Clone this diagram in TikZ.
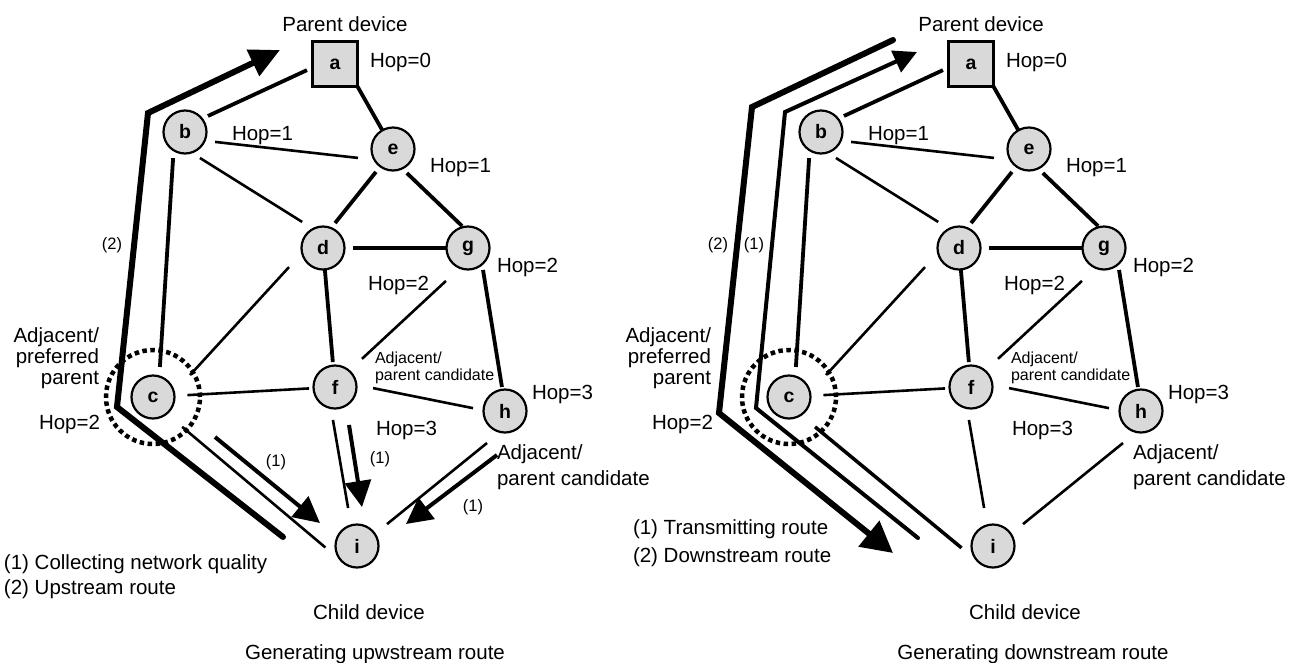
\documentclass[tikz,border=0pt]{standalone}
\usepackage{fontspec}
\setmainfont{Liberation Sans}
\usetikzlibrary{arrows.meta}
\newcommand{\netgraph}[2]{%
\begin{scope}[xshift=#2pt]
 \node[sq] (#1a) at (335,64) {a};
 \node[nd] (#1b) at (185,132) {b};
 \node[nd] (#1e) at (393,149) {e};
 \node[nd] (#1d) at (323,248) {d};
 \node[nd] (#1g) at (468,248) {g};
 \node[nd] (#1c) at (153,397) {c};
 \node[nd] (#1f) at (335,387) {f};
 \node[nd] (#1h) at (505,411) {h};
 \node[nd] (#1i) at (357,546) {i};
 \draw[thk, shorten <=6.1pt, shorten >=6.6pt] (#1a.189) -- (#1b.38);
 \draw[thn, shorten <=10.5pt, shorten >=16.5pt] (#1b.-24) -- (#1e.210);
 \draw[thn, shorten <=10.2pt, shorten >=13pt] (#1b.-73) -- (#1d.117.5);
 \draw[thk] (#1a.south east) -- (#1e);
 \draw[thk, shorten <=7.1pt, shorten >=6.4pt] (#1e.234) -- (#1d.68);
 \draw[thk, shorten <=6.6pt, shorten >=1.5pt] (#1e.-65) -- (#1g.103);
 \draw[thk, shorten <=8.5pt] (#1d) -- (#1g);
 \draw[thn, shorten <=19.3pt, shorten >=23.7pt] (#1d.193) -- (#1c.12);
 \draw[thk, shorten >=3.5pt] (#1d) -- (#1f);
 \draw[thn, shorten <=19.1pt, shorten >=17.5pt] (#1g.248) -- (#1f.49);
 \draw[thk, shorten <=5.8pt, shorten >=2.7pt] (#1g.-49) -- (#1h.97);
 \draw[thn, shorten <=13pt, shorten >=4.5pt] (#1c) -- (#1f);
 \draw[thn, shorten <=17pt, shorten >=10.7pt] (#1f.6) -- (#1h.178);
 \draw[thn, shorten <=12pt, shorten >=17.6pt] (#1f.259) -- (#1i.106);
 \draw[thn, shorten <=17.4pt, shorten >=15.7pt] (#1h.258) -- (#1i.34);
 \draw[thk, shorten <=7.9pt, shorten >=9.5pt] (#1b.238) -- (#1c.73);
 \node[lbl] (#1pd) at (345,24) {Parent device};
 \node[lbl, anchor=west] (#1h0) at (370,62) {Hop=0};
 \node[lbl, anchor=west] (#1hb) at (232,136) {Hop=1};
 \node[lbl, anchor=west] (#1he) at (430,168) {Hop=1};
 \node[lbl, anchor=west] (#1hg) at (497,267) {Hop=2};
 \node[lbl, anchor=west] (#1hd) at (368,285) {Hop=2};
 \node[sml, anchor=west, align=left] (#1pc) at (375,368) {Adjacent/\\parent candidate};
 \node[lbl, anchor=west] (#1hf) at (376,430) {Hop=3};
 \node[lbl, anchor=west] (#1hh) at (532,394) {Hop=3};
 \node[lbltwo, anchor=west, align=left] (#1pcb) at (497,467) {Adjacent/\\parent candidate};
\end{scope}}
\begin{document}
\begin{tikzpicture}[x=1pt,y=-1pt,
  every node/.style={inner sep=0pt, outer sep=0pt},
  nd/.style={circle, draw, line width=2.2pt, fill=black!15, minimum size=43pt,
    font=\fontsize{19.5}{20}\selectfont\bfseries},
  sq/.style={rectangle, draw, line width=2.2pt, fill=black!15, minimum size=45pt,
    font=\fontsize{19.5}{20}\selectfont\bfseries},
  thk/.style={line width=3.8pt},
  thn/.style={line width=2.6pt},
  lbl/.style={font=\fontsize{20.5}{21}\selectfont},
  lbltwo/.style={font=\fontsize{20.5}{26}\selectfont},
  sml/.style={font=\fontsize{16}{17}\selectfont},
  num/.style={font=\fontsize{16.5}{17}\selectfont},
  arrone/.style={line width=4pt, -{Triangle[length=26pt,width=26pt]}},
  routetwo/.style={line width=6pt, line cap=round, line join=miter},
  routeone/.style={line width=4pt, line cap=round, line join=miter},
  dotc/.style={line width=4.5pt, dash pattern=on 4.5pt off 3.5pt}
]
\useasboundingbox (0,0) rectangle (1296,662);
\netgraph{L}{0}
\netgraph{R}{636}
% left specific
\draw[thn, shorten <=20.4pt, shorten >=23.3pt] (Lc.-51) -- (Li.230);
\coordinate (L2s) at (283,537);
\coordinate (L2c1) at (117,407);
\coordinate (L2c2) at (148,113);
\coordinate (L2t) at (280,50);
\draw[routetwo, -{Triangle[length=30pt,width=28pt]}] (L2s) -- (L2c1) -- (L2c2) -- (L2t);
\coordinate (L1as) at (215,437); \coordinate (L1at) at (320,523);
\coordinate (L1bs) at (349,425); \coordinate (L1bt) at (362,507);
\coordinate (L1cs) at (497,455); \coordinate (L1ct) at (406,524);
\draw[arrone] (L1as) -- (L1at);
\draw[arrone] (L1bs) -- (L1bt);
\draw[arrone] (L1cs) -- (L1ct);
\draw[dotc] (Lc) circle[radius=47pt];
\node[num] (Ln1a) at (276,462) {(1)};
\node[num] (Ln1b) at (380,459) {(1)};
\node[num] (Ln1c) at (473,507) {(1)};
\node[num] (Ln2) at (112,245) {(2)};
\node[lbl, anchor=east, align=right] (Lpp) at (99,358) {Adjacent/\\preferred\\parent};
\node[lbl, anchor=east] (Lhc) at (100,424) {Hop=2};
\node[lbl, anchor=west] (Lleg1) at (4,564) {(1) Collecting network quality};
\node[lbl, anchor=west] (Lleg2) at (4,589) {(2) Upstream route};
\node[lbl] (Lcd) at (369,612) {Child device};
\node[lbl] (Lcap) at (375,654) {Generating upwstream route};
% right specific
\draw[line width=3.5pt, shorten <=18.6pt, shorten >=22.9pt] (Rc.-57) -- (Ri.230);
\coordinate (R2s) at (893,40);
\coordinate (R2c1) at (752,107);
\coordinate (R2c2) at (719,413);
\coordinate (R2t) at (893,553);
\draw[routetwo, -{Triangle[length=31pt,width=32pt]}] (R2s) -- (R2c1) -- (R2c2) -- (R2t);
\coordinate (R1s) at (918,538);
\coordinate (R1c1) at (756,408);
\coordinate (R1c2) at (785,112);
\coordinate (R1t) at (917,52);
\draw[routeone, -{Triangle[length=23pt,width=23pt]}] (R1s) -- (R1c1) -- (R1c2) -- (R1t);
\draw[dotc] (Rc) circle[radius=47pt];
\node[num] (Rn2) at (718,245) {(2)};
\node[num] (Rn1) at (754,245) {(1)};
\node[lbl, anchor=east, align=right] (Rpp) at (711,358) {Adjacent/\\preferred\\parent};
\node[lbl, anchor=east] (Rhc) at (713,424) {Hop=2};
\node[lbl, anchor=west] (Rleg1) at (633,529) {(1) Transmitting route};
\node[lbl, anchor=west] (Rleg2) at (633,557) {(2) Downstream route};
\node[lbl] (Rcd) at (1025,612) {Child device};
\node[lbl] (Rcap) at (1033,654) {Generating downstream route};
\end{tikzpicture}
\end{document}
